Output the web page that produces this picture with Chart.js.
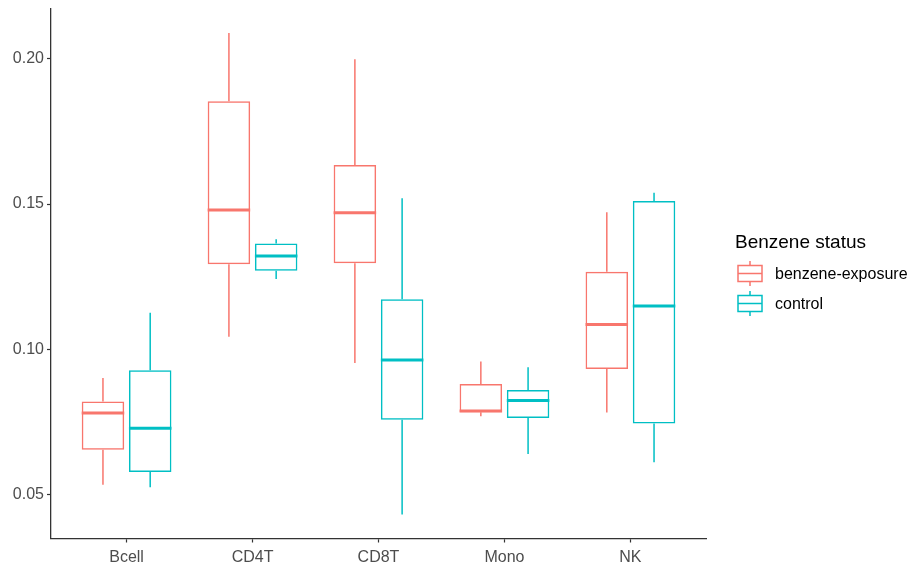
<!DOCTYPE html>
<html>
<head>
<meta charset="utf-8">
<title>Benzene status by cell type</title>
<script src="https://cdn.jsdelivr.net/npm/chart.js@4.4.1/dist/chart.umd.min.js"></script>
<style>
  html, body { margin: 0; padding: 0; background: #ffffff; }
  #wrap { width: 909px; height: 563px; }
</style>
</head>
<body>
<div id="wrap"><canvas id="chart" width="909" height="563"></canvas></div>
<script>
// Cell types along the x axis
const categories = ['Bcell', 'CD4T', 'CD8T', 'Mono', 'NK'];

// Five-number summaries per cell type: whisker low, Q1, median, Q3, whisker high
const benzeneMin    = [0.0533, 0.1043, 0.0953, 0.0769, 0.0782];
const benzeneQ1     = [0.0654, 0.1293, 0.1296, 0.0783, 0.0932];
const benzeneMedian = [0.0780, 0.1480, 0.1470, 0.0787, 0.1085];
const benzeneQ3     = [0.0820, 0.1854, 0.1635, 0.0880, 0.1267];
const benzeneMax    = [0.0901, 0.2089, 0.1999, 0.0958, 0.1472];

const controlMin    = [0.0525, 0.1242, 0.0431, 0.0639, 0.0611];
const controlQ1     = [0.0577, 0.1270, 0.0757, 0.0763, 0.0744];
const controlMedian = [0.0728, 0.1321, 0.0963, 0.0823, 0.1149];
const controlQ3     = [0.0928, 0.1364, 0.1172, 0.0860, 0.1511];
const controlMax    = [0.1126, 0.1379, 0.1520, 0.0938, 0.1539];

// Group names and y-axis ticks
const groupNames  = ['benzene-exposure', 'control'];
const yTickValues = [0.05, 0.10, 0.15, 0.20];
const yTickLabels = ['0.05', '0.10', '0.15', '0.20'];
const legendTitle = 'Benzene status';

const COLORS = ['#F8766D', '#00BFC4'];
const FONT = "'Liberation Sans', Arial, sans-serif";
const AXIS_COLOR = '#333333';

const summaries = [
  { min: benzeneMin, q1: benzeneQ1, med: benzeneMedian, q3: benzeneQ3, max: benzeneMax },
  { min: controlMin, q1: controlQ1, med: controlMedian, q3: controlQ3, max: controlMax }
];

// Value range padded by 5% on each side
const allLow = Math.min(...benzeneMin, ...controlMin);
const allHigh = Math.max(...benzeneMax, ...controlMax);
const pad = (allHigh - allLow) * 0.05;

const datasets = summaries.map((s, d) => ({
  label: groupNames[d],
  data: categories.map((c, i) => ({ x: i, y: [s.q1[i], s.q3[i]] })),
  borderColor: COLORS[d],
  backgroundColor: 'rgba(255,255,255,0)',
  borderWidth: 1.5,
  borderSkipped: false,
  categoryPercentage: 0.75,
  barPercentage: 0.9
}));

// Whiskers and median lines, placed with the chart's own bar geometry and y scale
const boxplotExtras = {
  id: 'boxplotExtras',
  afterDatasetsDraw(chart) {
    const ctx = chart.ctx;
    const y = chart.scales.y;
    ctx.save();
    summaries.forEach((s, d) => {
      const meta = chart.getDatasetMeta(d);
      meta.data.forEach((bar, i) => {
        const half = bar.width / 2;
        ctx.strokeStyle = COLORS[d];
        ctx.lineCap = 'butt';
        ctx.lineWidth = 1.5;
        ctx.beginPath();
        ctx.moveTo(bar.x, y.getPixelForValue(s.q3[i]));
        ctx.lineTo(bar.x, y.getPixelForValue(s.max[i]));
        ctx.moveTo(bar.x, y.getPixelForValue(s.q1[i]));
        ctx.lineTo(bar.x, y.getPixelForValue(s.min[i]));
        ctx.stroke();
        ctx.lineWidth = 3;
        ctx.beginPath();
        const my = y.getPixelForValue(s.med[i]);
        ctx.moveTo(bar.x - half, my);
        ctx.lineTo(bar.x + half, my);
        ctx.stroke();
      });
    });
    ctx.restore();
  },
  afterDraw(chart) {
    const ctx = chart.ctx;
    const left = chart.chartArea.right + 29;
    ctx.save();
    ctx.fillStyle = '#000000';
    ctx.textAlign = 'left';
    ctx.textBaseline = 'alphabetic';
    ctx.font = '19px ' + FONT;
    ctx.fillText(legendTitle, left, 247.5);

    ctx.font = '16px ' + FONT;
    groupNames.forEach((name, d) => {
      const cy = 273.5 + d * 30;
      const kx = left + 3;
      const kw = 24;
      ctx.strokeStyle = COLORS[d];
      ctx.lineWidth = 1.5;
      ctx.beginPath();
      ctx.moveTo(kx + kw / 2, cy - 12.5);
      ctx.lineTo(kx + kw / 2, cy - 8);
      ctx.moveTo(kx + kw / 2, cy + 8);
      ctx.lineTo(kx + kw / 2, cy + 12.5);
      ctx.moveTo(kx, cy);
      ctx.lineTo(kx + kw, cy);
      ctx.stroke();
      ctx.strokeRect(kx, cy - 8, kw, 16);
      ctx.fillStyle = '#000000';
      ctx.textBaseline = 'middle';
      ctx.fillText(name, left + 40, cy + 1);
    });
    ctx.restore();
  }
};

new Chart(document.getElementById('chart'), {
  type: 'bar',
  data: { datasets },
  plugins: [boxplotExtras],
  options: {
    responsive: false,
    animation: false,
    devicePixelRatio: 1,
    layout: { padding: { left: 0, right: 203, top: 9, bottom: 0 } },
    plugins: {
      legend: { display: false },
      tooltip: { enabled: false }
    },
    scales: {
      x: {
        type: 'linear',
        min: -0.6,
        max: categories.length - 0.4,
        offset: false,
        afterBuildTicks: (scale) => { scale.ticks = categories.map((c, i) => ({ value: i })); },
        afterFit: (scale) => { scale.height = 24.5; },
        ticks: {
          autoSkip: false,
          maxRotation: 0,
          padding: 5,
          color: '#4D4D4D',
          font: { family: FONT, size: 16 },
          callback: (v) => categories[v]
        },
        grid: {
          display: true,
          offset: false,
          drawOnChartArea: false,
          drawTicks: true,
          tickLength: 4,
          tickColor: AXIS_COLOR,
          tickWidth: 1.2
        },
        border: { display: true, color: AXIS_COLOR, width: 1.3 }
      },
      y: {
        type: 'linear',
        min: allLow - pad,
        max: allHigh + pad,
        afterBuildTicks: (scale) => { scale.ticks = yTickValues.map(v => ({ value: v })); },
        afterFit: (scale) => {
          scale.width = 51;
          scale.paddingTop = 0;
          scale.paddingBottom = 0;
        },
        ticks: {
          padding: 3,
          color: '#4D4D4D',
          font: { family: FONT, size: 16 },
          callback: (v, i) => yTickLabels[i]
        },
        grid: {
          display: true,
          drawOnChartArea: false,
          drawTicks: true,
          tickLength: 4,
          tickColor: AXIS_COLOR,
          tickWidth: 1.2
        },
        border: { display: true, color: AXIS_COLOR, width: 1.3 }
      }
    }
  }
});
</script>
</body>
</html>
